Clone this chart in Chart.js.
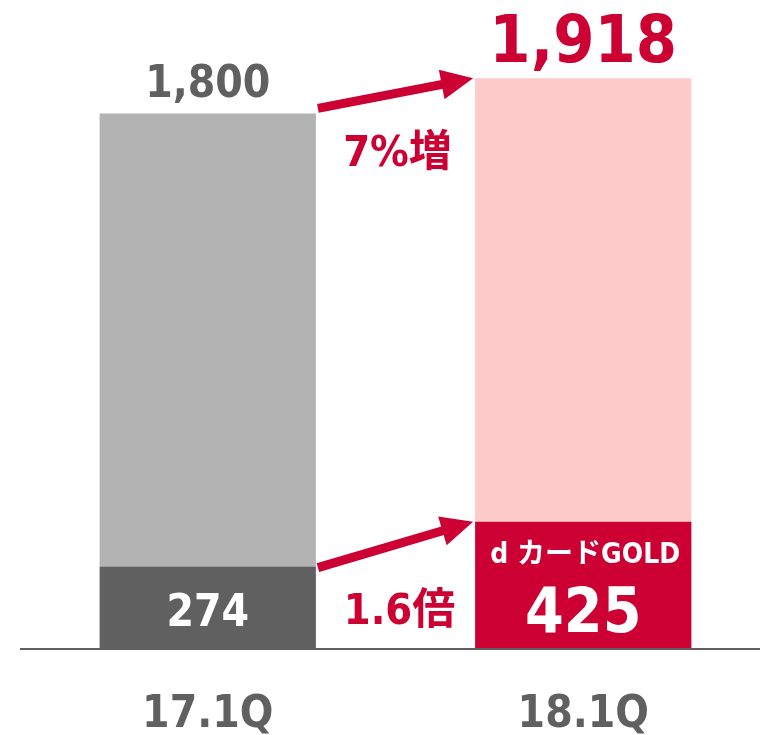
<!DOCTYPE html>
<html lang="ja">
<head>
<meta charset="utf-8">
<title>d カードGOLD</title>
<script src="https://cdn.jsdelivr.net/npm/chart.js@4.4.0/dist/chart.umd.min.js"></script>
<style>
  html, body { margin: 0; padding: 0; background: #fff; overflow: hidden; }
  canvas { display: block; }
</style>
</head>
<body>
<canvas id="chart" width="771" height="735"></canvas>
<script>
  // Chart data
  const categories = ['17.1Q', '18.1Q'];
  const goldValues = [274, 425];
  const totalValues = [1800, 1918];
  const goldLabel = 'd カードGOLD';
  const growthLabel = '7%増';
  const ratioLabel = '1.6倍';

  // Colours
  const RED = '#CC0033';
  const DARK = '#606060';
  const baseColors = [DARK, RED];
  const topColors = ['#B3B3B3', '#FECACA'];

  const LATIN = "'DejaVu Sans Condensed', 'DejaVu Sans', 'Noto Sans CJK JP', sans-serif";

  // remaining part of each bar above the gold segment
  const restValues = totalValues.map((t, i) => t - goldValues[i]);

  function drawArrow(ctx, x1, y1, x2, y2) {
    const ang = Math.atan2(y2 - y1, x2 - x1);
    const headLen = 32;
    const headHalf = 15;
    const bx = x2 - headLen * Math.cos(ang);
    const by = y2 - headLen * Math.sin(ang);
    ctx.save();
    ctx.strokeStyle = RED;
    ctx.fillStyle = RED;
    ctx.lineWidth = 9;
    ctx.beginPath();
    ctx.moveTo(x1, y1);
    ctx.lineTo(bx + 2 * Math.cos(ang), by + 2 * Math.sin(ang));
    ctx.stroke();
    ctx.beginPath();
    ctx.moveTo(x2, y2);
    ctx.lineTo(bx + headHalf * Math.sin(ang), by - headHalf * Math.cos(ang));
    ctx.lineTo(bx - headHalf * Math.sin(ang), by + headHalf * Math.cos(ang));
    ctx.closePath();
    ctx.fill();
    ctx.restore();
  }

  const annotations = {
    id: 'annotations',
    afterDatasetsDraw(chart) {
      const ctx = chart.ctx;
      const x = chart.scales.x;
      const y = chart.scales.y;
      const base = y.getPixelForValue(0);
      const bars = chart.getDatasetMeta(0).data;

      // axis line
      ctx.save();
      ctx.strokeStyle = DARK;
      ctx.lineWidth = 2;
      ctx.beginPath();
      ctx.moveTo(chart.chartArea.left, base + 1);
      ctx.lineTo(chart.width, base + 1);
      ctx.stroke();

      ctx.textAlign = 'center';
      ctx.textBaseline = 'alphabetic';

      // category labels
      ctx.fillStyle = DARK;
      ctx.font = 'bold 44px ' + LATIN;
      categories.forEach((c, i) => {
        ctx.fillText(c, x.getPixelForValue(i), base + 79);
      });

      // totals above bars
      ctx.fillStyle = DARK;
      ctx.font = 'bold 44px ' + LATIN;
      ctx.fillText(totalValues[0].toLocaleString('en-US'), x.getPixelForValue(0), y.getPixelForValue(totalValues[0]) - 16);
      ctx.fillStyle = RED;
      ctx.font = 'bold 66px ' + LATIN;
      ctx.fillText(totalValues[1].toLocaleString('en-US'), x.getPixelForValue(1), y.getPixelForValue(totalValues[1]) - 16);

      // values inside base segments
      ctx.fillStyle = '#fff';
      ctx.font = 'bold 44px ' + LATIN;
      ctx.fillText(String(goldValues[0]), x.getPixelForValue(0), base - 22);
      ctx.font = 'bold 62px ' + LATIN;
      ctx.fillText(String(goldValues[1]), x.getPixelForValue(1), base - 16);
      ctx.font = 'bold 28px ' + LATIN;
      ctx.fillText(goldLabel, x.getPixelForValue(1) + 2, y.getPixelForValue(goldValues[1]) + 41);

      // arrows between bars
      const left = bars[0].x + bars[0].width / 2 + 2;
      const right = bars[1].x - bars[1].width / 2 - 2;
      drawArrow(ctx, left, y.getPixelForValue(totalValues[0]) - 5, right, y.getPixelForValue(totalValues[1]));
      drawArrow(ctx, left, y.getPixelForValue(goldValues[0]) + 1, right, y.getPixelForValue(goldValues[1]));

      // arrow captions
      const mid = (left + right) / 2;
      ctx.fillStyle = RED;
      ctx.font = 'bold 43px ' + LATIN;
      ctx.fillText(growthLabel, mid + 2, y.getPixelForValue(totalValues[0]) + 53);
      ctx.fillText(ratioLabel, mid + 4, base - 24);
      ctx.restore();
    }
  };

  new Chart(document.getElementById('chart'), {
    type: 'bar',
    data: {
      labels: categories,
      datasets: [{
        label: 'GOLD',
        data: goldValues,
        backgroundColor: baseColors,
        borderWidth: 0
      }, {
        label: 'rest',
        data: restValues,
        backgroundColor: topColors,
        borderWidth: 0
      }]
    },
    options: {
      responsive: false,
      animation: false,
      layout: {
        padding: { left: 20, right: 0, top: 54, bottom: 87 }
      },
      datasets: {
        bar: { categoryPercentage: 1, barPercentage: 0.576 }
      },
      plugins: {
        legend: { display: false },
        tooltip: { enabled: false }
      },
      scales: {
        x: { stacked: true, display: false },
        y: { stacked: true, display: false, min: 0, max: 2000 }
      }
    },
    plugins: [annotations]
  });
</script>
</body>
</html>
